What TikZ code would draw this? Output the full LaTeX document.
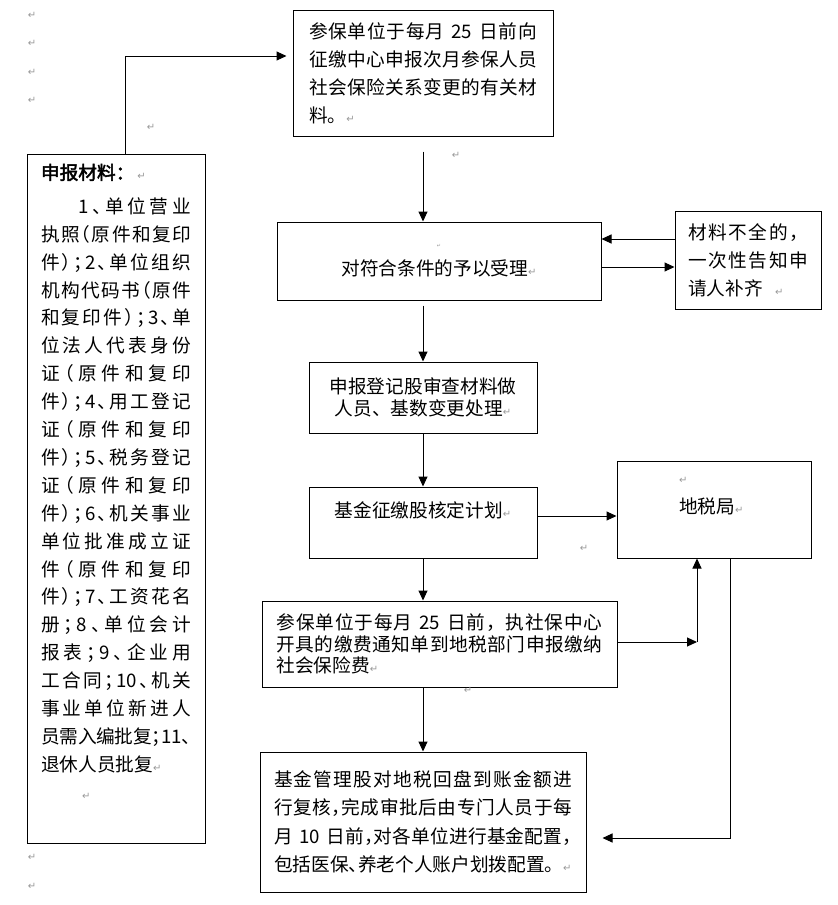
\documentclass[tikz,border=0pt]{standalone}
\usepackage{fontspec}
\setmainfont{Noto Sans CJK SC}[AutoFakeBold=2.5]
\newfontfamily\markfont{DejaVu Sans}
\usetikzlibrary{arrows.meta,positioning,calc}
\definecolor{markgray}{gray}{0.6}
\newcommand\pmark{{\markfont\color{markgray}\fontsize{10}{10}\selectfont ↵}}
\newcommand\cjkgap{\hskip 0pt plus 1fil minus 2pt\relax}
\def\spreadstop{\relax}
\def\spreadchars#1{\def\spreadtok{#1}\ifx\spreadtok\spreadstop\else#1\cjkgap\expandafter\spreadchars\fi}
\newcommand\jline[2]{\makebox[#1][s]{\spreadchars#2\relax\unskip}}
\tikzset{
  box/.style={draw, line width=1pt, inner sep=0pt, font=\fontsize{18.67}{28}\selectfont},
  halfpunct/.style={font=\fontsize{18.67}{#1}\selectfont\addfontfeatures{RawFeature=+halt}},
  pmk/.style={inner sep=0pt, text=markgray, font=\markfont\fontsize{10}{10}\selectfont}
}
\begin{document}
\begin{tikzpicture}[x=1pt,y=-1pt]
	\useasboundingbox[fill=white] (0,0) rectangle (838,905);

	% boxes
	\node[box, minimum width=260pt, minimum height=126pt, text width=228pt, align=left] (top) at (423,73)
		{\jline{228pt}{参保单位于每月{\ 25\ }日前向}\\
		 \jline{228pt}{征缴中心申报次月参保人员}\\
		 \jline{228pt}{社会保险关系变更的有关材}\\
		 料。\pmark};

	\node[box, halfpunct=27.9, minimum width=178pt, minimum height=689pt, text width=150pt, align=left] (mat) at (116,498.5)
		{{\bfseries 申报材料：}\ \ \pmark\\[6pt]
		 \hspace*{37pt}\jline{113pt}{1、单位营业}\\
		 \jline{150pt}{执照（原件和复印}\\
		 \jline{150pt}{件）；2、单位组织}\\
		 \jline{150pt}{机构代码书（原件}\\
		 \jline{150pt}{和复印件）；3、单}\\
		 \jline{150pt}{位法人代表身份}\\
		 \jline{150pt}{证（原件和复印}\\
		 \jline{150pt}{件）；4、用工登记}\\
		 \jline{150pt}{证（原件和复印}\\
		 \jline{150pt}{件）；5、税务登记}\\
		 \jline{150pt}{证（原件和复印}\\
		 \jline{150pt}{件）；6、机关事业}\\
		 \jline{150pt}{单位批准成立证}\\
		 \jline{150pt}{件（原件和复印}\\
		 \jline{150pt}{件）；7、工资花名}\\
		 \jline{150pt}{册；8、单位会计}\\
		 \jline{150pt}{报表；9、企业用}\\
		 \jline{150pt}{工合同；{10}、机关}\\
		 \jline{150pt}{事业单位新进人}\\
		 \jline{150pt}{员需入编批复；{11}、}\\
		 退休人员批复\pmark\\
		 \hspace*{41pt}\pmark\\[6pt]
		 \mbox{}};

	\node[box, minimum width=324pt, minimum height=78pt, align=center] (acc) at (439,261)
		{{\markfont\color{markgray}\fontsize{5}{5}\selectfont ↵}\\
		 对符合条件的予以受理\pmark};

	\node[box, minimum width=146pt, minimum height=98pt, text width=120pt, align=left] (rbox) at (748,260)
		{\jline{120pt}{材料不全的，}\\
		 \jline{120pt}{一次性告知申}\\
		 请人补齐\ \ \pmark};

	\node[box, font=\fontsize{18.67}{22}\selectfont, minimum width=228pt, minimum height=71pt, align=center] (rev) at (423,397.5)
		{申报登记股审查材料做\\
		 人员、基数变更处理\pmark};

	\node[box, font=\fontsize{18.67}{26}\selectfont, minimum width=228pt, minimum height=71pt, align=center] (plan) at (423,522.5)
		{基金征缴股核定计划\pmark\\
		 \mbox{}};

	\node[box, minimum width=194pt, minimum height=97pt, text width=70pt, align=left] (dishui) at (714,509.5)
		{\pmark\\[2pt]
		 地税局\pmark\\
		 \mbox{}};

	\node[box, font=\fontsize{18.67}{21.5}\selectfont, minimum width=355pt, minimum height=86pt, text width=326pt, align=left] (pay) at (439.5,644)
		{\jline{326pt}{参保单位于每月{\ 25\ }日前，执社保中心}\\
		 \jline{326pt}{开具的缴费通知单到地税部门申报缴纳}\\
		 社会保险费\pmark};

	\node[box, halfpunct=28.3, minimum width=326pt, minimum height=140pt, text width=298pt, align=left] (fin) at (423,822)
		{\jline{298pt}{基金管理股对地税回盘到账金额进}\\
		 \jline{298pt}{行复核，完成审批后由专门人员于每}\\
		 \jline{298pt}{月{\ 10\ }日前，对各单位进行基金配置，}\\
		 包括医保、养老个人账户划拨配置。\hspace{9pt}\pmark};

	% loose paragraph marks
	\foreach \y [count=\i] in {15,43,72,100}
		\node[pmk] (mk\i) at (32,\y) {↵};
	\node[pmk] (mk5) at (151,127) {↵};
	\node[pmk] (mk6) at (456,155) {↵};
	\node[pmk] (mk7) at (584,548) {↵};
	\node[pmk] (mk8) at (468,690) {↵};
	\node[pmk] (mk9) at (32,857) {↵};
	\node[pmk] (mk10) at (32,886) {↵};

	% connectors
	\begin{scope}[>={Triangle[length=10pt,width=9pt]}, line width=1pt]
		\coordinate (bend) at (125,56);
		\coordinate (back) at (0,239);
		\coordinate (fwd) at (0,267);
		\coordinate (side) at (0,516);
		\coordinate (corner) at (697,642);
		\coordinate (drop) at (730,838);

		\draw[->, shorten >=6pt] (mat.north -| bend) -- (bend) -- (bend -| top.west);
		\draw[->, shorten <=15pt] (top.south) -- (top.south |- acc.north);

		\draw[->] (rbox.west |- back) -- (acc.east |- back);
		\draw[->] (acc.east |- fwd) -- (rbox.west |- fwd);

		\draw[->, shorten <=5pt] (acc.south -| top.south) -- (rev.north);
		\draw[->] (rev.south) -- (plan.north);
		\draw[->] (plan.east |- side) -- (dishui.west |- side);
		\draw[->] (plan.south) -- (plan.south |- pay.north);

		\draw[->] (pay.east |- corner) -- (corner);
		\draw[->] (corner) -- (corner |- dishui.south);
		\draw[->] (pay.south -| fin.north) -- (fin.north);
		\draw[->, shorten >=16pt] (dishui.south -| drop) -- (drop) -- (drop -| fin.east);
	\end{scope}
\end{tikzpicture}
\end{document}
